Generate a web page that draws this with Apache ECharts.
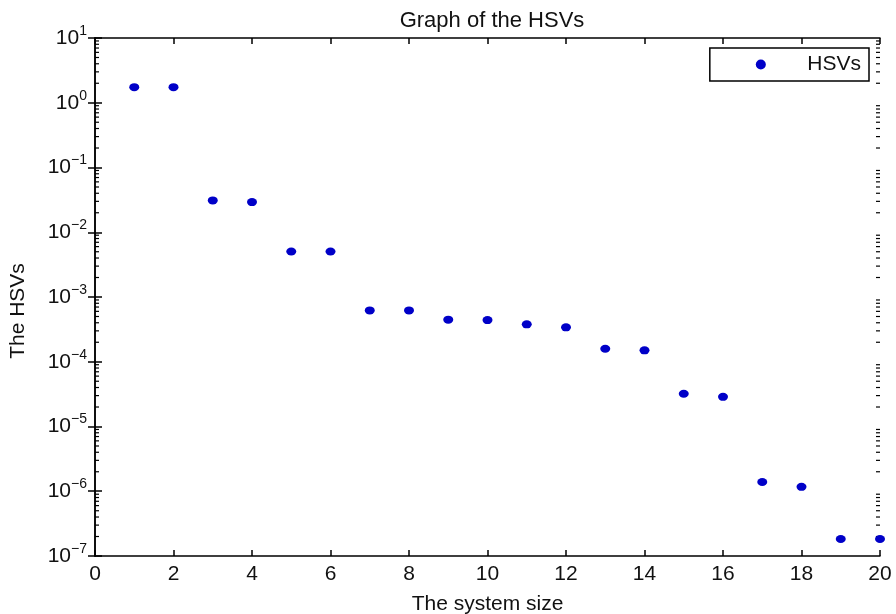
<!DOCTYPE html>
<html>
<head>
<meta charset="utf-8">
<script src="https://cdn.jsdelivr.net/npm/echarts@6/dist/echarts.min.js"></script>
<style>
  html, body { margin: 0; padding: 0; background: #fff; }
  #chart { width: 896px; height: 614px; }
</style>
</head>
<body>
<div id="chart"></div>
<script>
// system size on x, HSVs
const systemSizes = [1, 2, 3, 4, 5, 6, 7, 8, 9, 10, 11, 12, 13, 14, 15, 16, 17, 18, 19, 20]
const hsvValues = [
  1.74, 1.74, 3.1e-2, 2.92e-2, 5.05e-3, 5.05e-3, 6.2e-4, 6.2e-4, 4.47e-4, 4.4e-4,
  3.78e-4, 3.4e-4, 1.59e-4, 1.5e-4, 3.2e-5, 2.87e-5, 1.39e-6, 1.17e-6, 1.83e-7, 1.83e-7
]
const xTicks = [0, 2, 4, 6, 8, 10, 12, 14, 16, 18, 20]
const decadeExponents = [-7, -6, -5, -4, -3, -2, -1, 0]
const minorMultipliers = [2, 3, 4, 5, 6, 7, 8, 9]

const font = "'Liberation Sans', Arial, sans-serif"
const textColor = '#111'
const dotColor = '#0000c8'

const points = systemSizes.map((s, i) => [s, hsvValues[i]])

const minorTicks = []
decadeExponents.forEach((e) => {
  minorMultipliers.forEach((m) => {
    minorTicks.push([xTicks[0], m * Math.pow(10, e)])
  })
})

function powerLabel(v) {
  const e = Math.round(Math.log10(v))
  return '10{sup|' + (e < 0 ? '\u2212' + (-e) : e) + '}'
}

const axisLine = { show: true, lineStyle: { color: '#000', width: 1.5 } }

const chart = echarts.init(document.getElementById('chart'))
chart.setOption({
  animation: false,
  backgroundColor: '#fff',
  title: {
    text: 'Graph of the HSVs',
    left: 487,
    textAlign: 'center',
    top: 5,
    textStyle: { fontFamily: font, fontSize: 22, fontWeight: 'normal', color: textColor }
  },
  legend: {
    data: ['HSVs'],
    right: 27,
    top: 48,
    icon: 'circle',
    itemWidth: 11,
    itemHeight: 10,
    padding: [6, 8, 6, 46],
    borderColor: '#000',
    borderWidth: 1.5,
    backgroundColor: '#fff',
    textStyle: { fontFamily: font, fontSize: 21, color: textColor, padding: [0, 0, 0, 36] }
  },
  grid: { left: 95, right: 16, top: 38, bottom: 58, containLabel: false, outerBoundsMode: 'none' },
  xAxis: [
    {
      type: 'value',
      min: xTicks[0],
      max: xTicks[xTicks.length - 1],
      interval: 2,
      name: 'The system size',
      nameLocation: 'middle',
      nameGap: 38,
      nameTextStyle: { fontFamily: font, fontSize: 21, color: textColor },
      axisLine: axisLine,
      axisTick: { inside: true, length: 6, lineStyle: { color: '#000', width: 1.5 } },
      axisLabel: { fontFamily: font, fontSize: 21, color: textColor, margin: 8 },
      splitLine: { show: false }
    },
    {
      type: 'value',
      position: 'top',
      min: xTicks[0],
      max: xTicks[xTicks.length - 1],
      interval: 2,
      axisLine: axisLine,
      axisTick: { inside: true, length: 6, lineStyle: { color: '#000', width: 1.5 } },
      axisLabel: { show: false },
      splitLine: { show: false }
    }
  ],
  yAxis: [
    {
      type: 'log',
      logBase: 10,
      min: 1e-7,
      max: 10,
      name: 'The HSVs',
      nameLocation: 'middle',
      nameGap: 66,
      nameTextStyle: { fontFamily: font, fontSize: 21, color: textColor, padding: [0, 28, 0, 0] },
      axisLine: axisLine,
      axisTick: { inside: true, length: 7, lineStyle: { color: '#000', width: 1.5 } },
      axisLabel: {
        fontFamily: font,
        fontSize: 21,
        color: textColor,
        margin: 8,
        formatter: powerLabel,
        rich: {
          sup: { fontFamily: font, fontSize: 14, color: textColor, padding: [0, 0, 14, 0] }
        }
      },
      splitLine: { show: false }
    },
    {
      type: 'log',
      logBase: 10,
      min: 1e-7,
      max: 10,
      position: 'right',
      axisLine: axisLine,
      axisTick: { inside: true, length: 7, lineStyle: { color: '#000', width: 1.5 } },
      axisLabel: { show: false },
      splitLine: { show: false }
    }
  ],
  series: [
    {
      name: 'minor ticks',
      type: 'custom',
      silent: true,
      clip: false,
      xAxisIndex: 0,
      yAxisIndex: 0,
      data: minorTicks,
      renderItem: function (params, api) {
        const v = api.value(1)
        const l = api.coord([xTicks[0], v])
        const r = api.coord([xTicks[xTicks.length - 1], v])
        const style = { stroke: '#000', lineWidth: 1.2 }
        return {
          type: 'group',
          children: [
            { type: 'line', shape: { x1: l[0], y1: l[1], x2: l[0] + 4, y2: l[1] }, style: style },
            { type: 'line', shape: { x1: r[0], y1: r[1], x2: r[0] - 4, y2: r[1] }, style: style }
          ]
        }
      }
    },
    {
      name: 'HSVs',
      type: 'scatter',
      xAxisIndex: 0,
      yAxisIndex: 0,
      symbol: 'circle',
      symbolSize: [10, 8],
      itemStyle: { color: dotColor, opacity: 1 },
      clip: false,
      data: points
    }
  ]
})
</script>
</body>
</html>
